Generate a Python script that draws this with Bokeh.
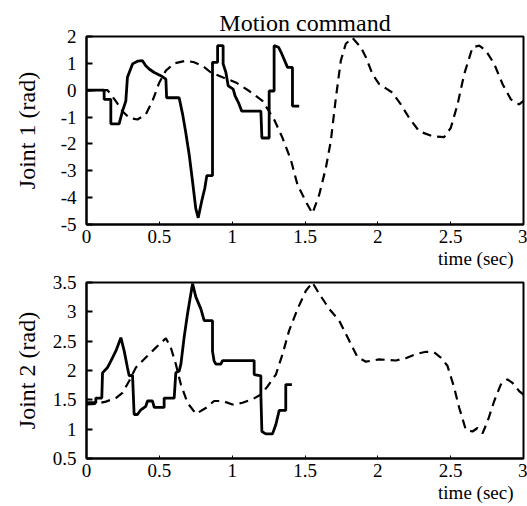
from bokeh.plotting import figure
from bokeh.layouts import column
from bokeh.models import Range1d, FixedTicker, Title
from bokeh.embed import file_html
from bokeh.resources import INLINE

# ---- data ----
x_ticks = [0, 0.5, 1, 1.5, 2, 2.5, 3]
x_tick_labels = ["0", "0.5", "1", "1.5", "2", "2.5", "3"]
j1_ticks = [-5, -4, -3, -2, -1, 0, 1, 2]
j1_tick_labels = ["-5", "-4", "-3", "-2", "-1", "0", "1", "2"]
j2_ticks = [0.5, 1, 1.5, 2, 2.5, 3, 3.5]
j2_tick_labels = ["0.5", "1", "1.5", "2", "2.5", "3", "3.5"]

# Joint 1 actual motion command (solid, staircase)
j1_cmd_t = [0, .121, .121, .167, .167, .224, .247, .27, .281, .316, .35, .384, .407, .43, .465,
            .51, .545, .55, .636, .66, .68, .705, .728, .75, .767, .79, .812, .826, .865, .865,
            .9, .9, .938, .938, .957, .973, 1.007, 1.02, 1.043, 1.066, 1.197, 1.204, 1.254, 1.254,
            1.288, 1.288, 1.318, 1.341, 1.38, 1.414, 1.414, 1.46]
j1_cmd_v = [0, 0, -.34, -.34, -1.25, -1.25, -.78, -.4, .48, .98, 1.08, 1.1, .91, .79, .66,
            .54, .41, -.28, -.28, -.9, -1.53, -2.4, -3.4, -4.4, -4.75, -4.15, -3.65, -3.18, -3.18, 1.04,
            1.04, 1.66, 1.66, .98, .66, .16, .04, -.21, -.46, -.78, -.78, -1.78, -1.78, -.03,
            -.03, 1.66, 1.6, 1.35, .85, .85, -.59, -.59]
# Joint 1 reference trajectory (dashed)
j1_ref_t = [0, .144, .167, .2, .247, .293, .35, .407, .453, .5, .545, .602, .682, .739, .796, .854,
            .934, 1.025, 1.117, 1.208, 1.288, 1.346, 1.403, 1.449, 1.506, 1.551, 1.597, 1.643, 1.677,
            1.712, 1.746, 1.78, 1.826, 1.883, 1.918, 1.963, 2.009, 2.1, 2.158, 2.215, 2.284, 2.375,
            2.455, 2.501, 2.547, 2.593, 2.65, 2.696, 2.741, 2.799, 2.856, 2.913, 2.97, 3.0]
j1_ref_v = [0, 0, -.15, -.4, -.78, -1.03, -1.09, -.9, -.4, .29, .73, 1.0, 1.1, 1.04, .91, .66,
            .48, .29, -.03, -.4, -1.09, -1.78, -2.59, -3.53, -4.15, -4.59, -3.9, -2.9, -1.9,
            -.28, 1.1, 1.73, 1.95, 1.6, 1.23, .6, .23, -.09, -.53, -1.03, -1.53, -1.71,
            -1.75, -1.4, -.53, .6, 1.6, 1.66, 1.48, .98, .23, -.34, -.53, -.4]

# Joint 2 actual motion command (solid, staircase)
j2_cmd_t = [0, .064, .064, .105, .11, .144, .167, .201, .236, .259, .281, .293, .316, .327, .35,
            .373, .407, .419, .453, .465, .533, .533, .602, .613, .636, .648, .67, .693, .728, .751,
            .785, .808, .865, .865, .876, .888, .922, .934, 1.151, 1.151, 1.197, 1.197, 1.204, 1.231,
            1.277, 1.3, 1.323, 1.368, 1.368, 1.41]
j2_cmd_v = [1.45, 1.45, 1.53, 1.53, 1.96, 2.05, 2.16, 2.33, 2.56, 2.33, 2.05, 1.91, 1.92, 1.25, 1.25,
            1.33, 1.39, 1.48, 1.48, 1.37, 1.37, 1.53, 1.53, 1.96, 1.99, 2.11, 2.56, 2.96, 3.48, 3.25,
            3.05, 2.85, 2.85, 2.33, 2.16, 2.11, 2.11, 2.17, 2.17, 1.93, 1.91, 1.59, .96, .92,
            .92, 1.08, 1.32, 1.32, 1.76, 1.76]
# Joint 2 reference trajectory (dashed)
j2_ref_t = [0, .064, .133, .201, .247, .293, .339, .407, .476, .545, .579, .613, .648, .693, .751,
            .819, .876, .934, 1.002, 1.071, 1.14, 1.197, 1.243, 1.3, 1.346, 1.391, 1.449, 1.506,
            1.551, 1.597, 1.666, 1.735, 1.803, 1.86, 1.918, 2.009, 2.124, 2.192, 2.261, 2.33, 2.387,
            2.432, 2.478, 2.524, 2.558, 2.604, 2.65, 2.684, 2.719, 2.753, 2.799, 2.844, 2.89, 2.924,
            2.97, 3.0]
j2_ref_v = [1.42, 1.43, 1.47, 1.53, 1.62, 1.82, 2.05, 2.22, 2.39, 2.55, 2.39, 2.11, 1.76, 1.45, 1.26,
            1.36, 1.48, 1.48, 1.42, 1.45, 1.51, 1.59, 1.73, 1.93, 2.28, 2.68, 3.05, 3.36,
            3.5, 3.31, 3.05, 2.85, 2.51, 2.23, 2.15, 2.19, 2.17, 2.21, 2.28, 2.32, 2.31,
            2.22, 2.08, 1.71, 1.37, .99, .96, 1.02, .93, 1.13, 1.48, 1.76, 1.85, 1.79,
            1.65, 1.59]

FONT = "Liberation Serif"


def make_fig(height, top, bottom, y_range, y_ticks, y_labels, ylabel, label_standoff):
    p = figure(width=527, height=height, output_backend="svg", toolbar_location=None,
               x_range=Range1d(0, 3), y_range=Range1d(*y_range),
               min_border_left=86, min_border_right=4, min_border_top=top,
               min_border_bottom=bottom)
    p.grid.visible = False
    p.outline_line_color = "black"
    p.outline_line_width = 2
    p.outline_line_alpha = 1
    p.background_fill_color = "white"
    p.border_fill_color = "white"
    for ax in (p.xaxis[0], p.yaxis[0]):
        ax.axis_line_width = 2
        ax.axis_line_color = "black"
        ax.major_tick_line_color = "black"
        ax.minor_tick_line_color = None
        ax.major_tick_out = 0
        ax.major_label_text_font = FONT
        ax.major_label_text_font_size = "19px"
        ax.major_label_text_color = "black"
    p.xaxis.ticker = FixedTicker(ticks=x_ticks)
    p.xaxis.major_label_overrides = dict(zip(x_ticks, x_tick_labels))
    p.xaxis.major_tick_in = 3
    p.xaxis.major_label_standoff = 5
    p.yaxis.ticker = FixedTicker(ticks=y_ticks)
    p.yaxis.major_label_overrides = dict(zip(y_ticks, y_labels))
    p.yaxis.major_tick_in = 6
    p.yaxis.major_tick_line_width = 2
    p.yaxis.major_label_standoff = 10
    p.yaxis.axis_label = ylabel
    p.yaxis.axis_label_text_font = FONT
    p.yaxis.axis_label_text_font_size = "24px"
    p.yaxis.axis_label_text_font_style = "normal"
    p.yaxis.axis_label_text_color = "black"
    p.yaxis.axis_label_standoff = label_standoff
    t = Title(text="time (sec)", align="right", text_font=FONT, text_font_size="19px",
              text_font_style="normal", text_color="black", offset=10, standoff=0)
    p.add_layout(t, "below")
    return p


p1 = make_fig(270, 36, 46, (-5, 2), j1_ticks, j1_tick_labels, "Joint 1 (rad)", 18)
p1.title.text = "Motion command"
p1.title.text_font = FONT
p1.title.text_font_size = "24px"
p1.title.text_font_style = "normal"
p1.title.text_color = "black"
p1.title.align = "center"
p1.title.offset = -12
p1.title.standoff = 2
p1.line(j1_ref_t, j1_ref_v, line_color="black", line_width=2.2, line_dash="9 6")
p1.line(j1_cmd_t, j1_cmd_v, line_color="black", line_width=2.8)

p2 = make_fig(236, 12, 48, (0.5, 3.5), j2_ticks, j2_tick_labels, "Joint 2 (rad)", 10)
p2.line(j2_ref_t, j2_ref_v, line_color="black", line_width=2.2, line_dash="9 6")
p2.line(j2_cmd_t, j2_cmd_v, line_color="black", line_width=2.8)

layout = column(p1, p2, spacing=0)
open("out.html", "w").write(file_html(layout, INLINE))
